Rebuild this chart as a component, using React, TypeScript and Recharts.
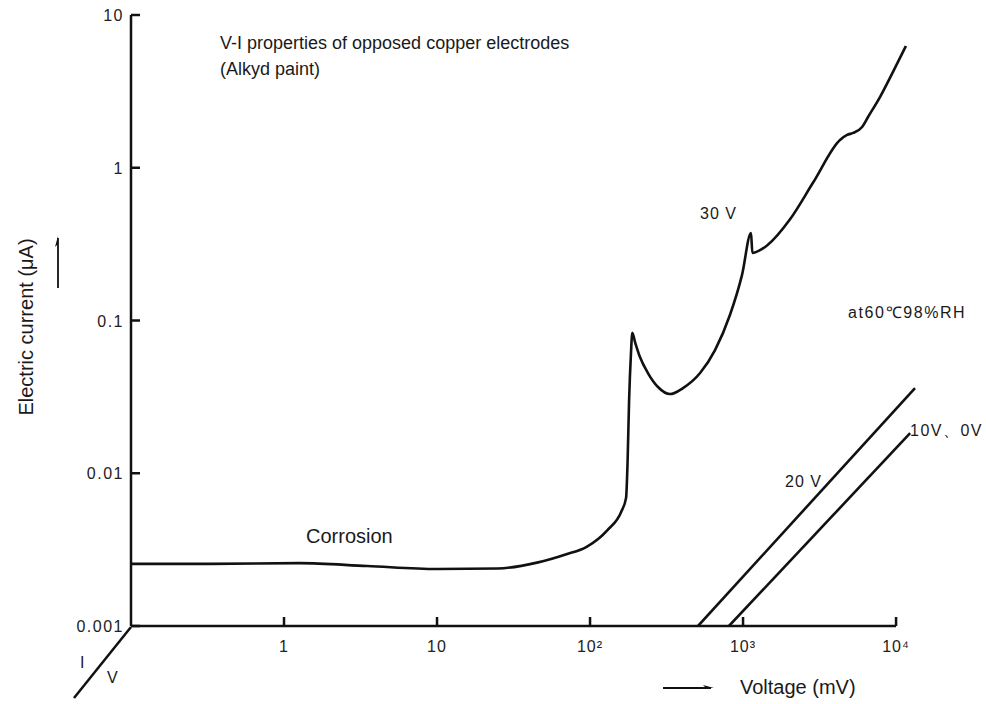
import React from "react";
import { LineChart, Line, XAxis, YAxis, ReferenceLine } from "recharts";

// 30 V curve (voltage in mV, current in µA)
const voltage30 = [
  0.1, 0.33, 1.27, 3.5, 10, 25, 45, 70, 95, 130, 160, 172, 176, 180, 185, 189, 197, 212, 239, 278, 333,
  405, 524, 656, 822, 985, 1128, 1150, 1300, 1435, 2028, 2870, 4300, 4786, 5240, 6000, 6560, 7850,
  9550, 11600,
];
const current30 = [
  0.00255, 0.00255, 0.00258, 0.00247, 0.00236, 0.00238, 0.0026, 0.00295, 0.0033, 0.00425, 0.0056, 0.0069,
  0.012, 0.03, 0.06, 0.083, 0.072, 0.0577, 0.0453, 0.0367, 0.033, 0.0361, 0.0453, 0.064, 0.109, 0.199,
  0.374, 0.277, 0.29, 0.31, 0.46, 0.8, 1.52, 1.64, 1.69, 1.85, 2.15, 2.9, 4.24, 6.27,
];

// 20 V line
const voltage20 = [508, 13300];
const current20 = [0.001, 0.0361];

// 10 V / 0 V line
const voltage10 = [809, 12360];
const current10 = [0.001, 0.0183];

const xTicks = [1, 10, 100, 1000, 10000];
const xTickLabels = ["1", "10", "10²", "10³", "10⁴"];
const yTicks = [0.001, 0.01, 0.1, 1, 10];
const yTickLabels = ["0.001", "0.01", "0.1", "1", "10"];

const toRows = (xs: number[], ys: number[]) => xs.map((v, k) => ({ v, i: ys[k] }));

const ink = "#111";
const sans = "'Liberation Sans', Arial, sans-serif";

function XTick(props: any) {
  const { x, y, index } = props;
  return (
    <g>
      <line x1={x} y1={y} x2={x} y2={y - 9} stroke={ink} strokeWidth={2.5} />
      <text x={x} y={y + 26} textAnchor="middle" fontSize={16} fill="#222" fontFamily={sans} letterSpacing={1}>
        {xTickLabels[index]}
      </text>
    </g>
  );
}

function YTick(props: any) {
  const { x, y, index } = props;
  return (
    <g>
      <line x1={x} y1={y} x2={x + 9} y2={y} stroke={ink} strokeWidth={2.5} />
      <text x={x - 7} y={y + 6} textAnchor="end" fontSize={16} fill="#222" fontFamily={sans} letterSpacing={1.5}>
        {yTickLabels[index]}
      </text>
    </g>
  );
}

export default function App() {
  return (
    <div style={{ position: "absolute", left: 0, top: 0, width: 986, height: 704, background: "#fff" }}>
      <LineChart width={986} height={704} margin={{ top: 15, right: 70, bottom: 77, left: 130 }}>
        <XAxis
          dataKey="v"
          type="number"
          scale="log"
          domain={[0.1, 13500]}
          ticks={xTicks}
          interval={0}
          height={1}
          tickSize={0}
          tickMargin={0}
          axisLine={false}
          tickLine={false}
          tick={(p: any) => <XTick {...p} />}
          allowDataOverflow
        />
        <YAxis
          dataKey="i"
          type="number"
          scale="log"
          domain={[0.001, 10]}
          ticks={yTicks}
          interval={0}
          width={1}
          tickSize={0}
          tickMargin={0}
          axisLine={{ stroke: ink, strokeWidth: 2.5 }}
          tickLine={false}
          tick={(p: any) => <YTick {...p} />}
          allowDataOverflow
        />
        <ReferenceLine
          segment={[{ x: 0.1, y: 0.001 }, { x: 10000, y: 0.001 }]}
          stroke={ink}
          strokeWidth={2.5}
          ifOverflow="visible"
        />
        <Line data={toRows(voltage30, current30)} dataKey="i" type="monotone" stroke={ink} strokeWidth={2.6} dot={false} isAnimationActive={false} />
        <Line data={toRows(voltage20, current20)} dataKey="i" type="linear" stroke={ink} strokeWidth={2.6} dot={false} isAnimationActive={false} />
        <Line data={toRows(voltage10, current10)} dataKey="i" type="linear" stroke={ink} strokeWidth={2.6} dot={false} isAnimationActive={false} />
      </LineChart>

      <svg width={986} height={704} style={{ position: "absolute", left: 0, top: 0, pointerEvents: "none" }}>
        <g fontFamily={sans} fill="#1a1a1a">
          <text x={220} y={49} fontSize={18}>V-I properties of opposed copper electrodes</text>
          <text x={220} y={75} fontSize={18}>(Alkyd paint)</text>
          <text x={306} y={543} fontSize={20}>Corrosion</text>
          <text x={740} y={694} fontSize={20}>Voltage (mV)</text>
          <text transform="translate(33,327) rotate(-90)" textAnchor="middle" fontSize={20}>Electric current (μA)</text>
          <text x={700} y={219} fontSize={16} letterSpacing={1}>30 V</text>
          <text x={848} y={318} fontSize={16} letterSpacing={1.6}>at60℃98%RH</text>
          <text x={910} y={436} fontSize={16} letterSpacing={1.5}>10V、0V</text>
          <text x={785} y={487} fontSize={16} letterSpacing={1}>20 V</text>
          <text x={80} y={668} fontSize={16}>I</text>
          <text x={107} y={683} fontSize={16}>V</text>
        </g>
        <line x1={131} y1={627} x2={74} y2={698} stroke={ink} strokeWidth={2.5} />
        <line x1={58} y1={288} x2={58} y2={238} stroke={ink} strokeWidth={1.8} />
        <path d="M58 236 L55 247 L58 244 Z" fill={ink} />
        <line x1={663} y1={688} x2={711} y2={688} stroke={ink} strokeWidth={1.8} />
        <path d="M714 688 L703 685 L706 688 Z" fill={ink} />
      </svg>
    </div>
  );
}
